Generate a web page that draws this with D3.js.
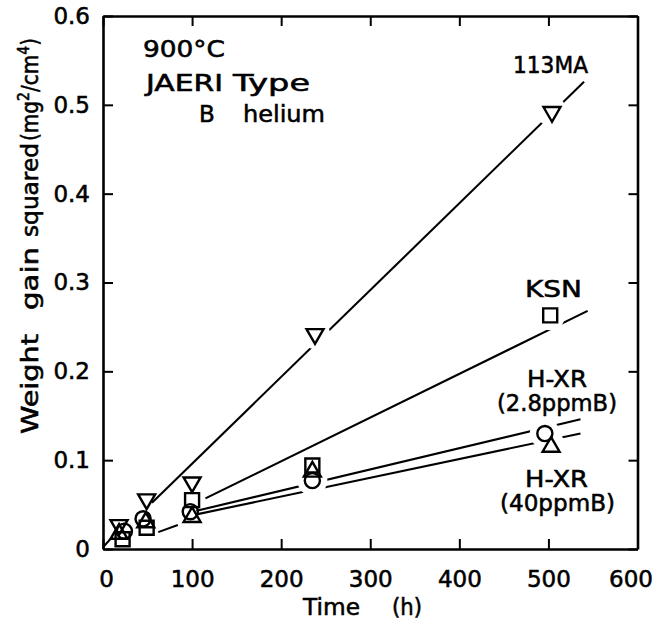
<!DOCTYPE html>
<html>
<head>
<meta charset="utf-8">
<script src="https://cdn.jsdelivr.net/npm/d3@7"></script>
<style>
  html, body { margin: 0; padding: 0; background: #fff; }
  svg { display: block; }
  text { font-family: "DejaVu Sans", sans-serif; fill: #000; stroke: #000; stroke-width: 0.55px; }
</style>
</head>
<body>
<svg id="chart" width="658" height="633"></svg>
<script>
// Axis ticks
const timeTicks = [0, 100, 200, 300, 400, 500, 600];
const gainTicks = [0, 0.1, 0.2, 0.3, 0.4, 0.5, 0.6];

// Measured weight gain squared (mg^2/cm^4) versus exposure time (h)
const hours113MA = [18, 49, 100, 238, 504];
const gain113MA  = [0.027, 0.056, 0.075, 0.242, 0.492];
const hoursKSN   = [22, 49, 100, 235, 502];
const gainKSN    = [0.011, 0.024, 0.055, 0.094, 0.263];
const hoursHXR28 = [24, 45, 98, 235, 496];
const gainHXR28  = [0.020, 0.034, 0.042, 0.077, 0.130];
const hoursHXR40 = [18, 48, 100, 235, 503];
const gainHXR40  = [0.017, 0.030, 0.036, 0.087, 0.115];

// Fitted lines, as [hour, gain] end points
const fit113MA = [[55, 0.052], [540, 0.526]];
const fitKSN   = [[115, 0.057], [544, 0.268]];
const fitHXR28 = [[105, 0.043], [536, 0.146]];
const fitHXR40 = [[105, 0.039], [536, 0.130]];
// Short hand-drawn strokes near the origin
const earlyStrokes = [
  [[0, 0.002], [9, 0.012]],
  [[62, 0.019], [84, 0.027]]
];

const series = [
  { hours: hours113MA, gain: gain113MA, fit: fit113MA, shape: "triDown" },
  { hours: hoursKSN,   gain: gainKSN,   fit: fitKSN,   shape: "square" },
  { hours: hoursHXR40, gain: gainHXR40, fit: fitHXR40, shape: "triUp" },
  { hours: hoursHXR28, gain: gainHXR28, fit: fitHXR28, shape: "circle" }
];

const svg = d3.select("#chart");
const plotLeft = 103, plotRight = 637.5, plotTop = 16, plotBottom = 549;
const fontSize = 23;

const x = d3.scaleLinear().domain([0, 600]).range([plotLeft, plotRight]);
const y = d3.scaleLinear().domain([0, 0.6]).range([plotBottom, plotTop]);

const line = d3.line().x(d => x(d[0])).y(d => y(d[1]));

// Fit lines
const gLines = svg.append("g")
  .attr("fill", "none").attr("stroke", "#000").attr("stroke-width", 2.1);
series.forEach(s => gLines.append("path").attr("d", line(s.fit)));

// Clear the fit lines around the later, well separated markers
const points = series.flatMap(s =>
  s.hours.map((h, i) => ({ h, g: s.gain[i], shape: s.shape })));
svg.append("g").selectAll("circle")
  .data(points.filter(p => p.h > 150))
  .join("circle")
  .attr("cx", p => x(p.h)).attr("cy", p => y(p.g))
  .attr("r", 15).attr("fill", "#fff");

const gEarly = svg.append("g")
  .attr("fill", "none").attr("stroke", "#000").attr("stroke-width", 2.1);
earlyStrokes.forEach(s => gEarly.append("path").attr("d", line(s)));

// Markers (open symbols)
const symbolFor = {
  triDown: d3.symbol().type(d3.symbolTriangle).size(125),
  triUp:   d3.symbol().type(d3.symbolTriangle).size(125),
  square:  d3.symbol().type(d3.symbolSquare).size(196),
  circle:  d3.symbol().type(d3.symbolCircle).size(180)
};
svg.append("g").selectAll("path")
  .data(points)
  .join("path")
  .attr("d", p => symbolFor[p.shape]())
  .attr("transform", p => `translate(${x(p.h)},${y(p.g)})` + (p.shape === "triDown" ? " rotate(180)" : ""))
  .attr("fill", "none").attr("stroke", "#000").attr("stroke-width", 2.4);

// Axes: ticks point inward on all four sides
function styleAxis(g) {
  g.select(".domain").attr("stroke-width", 2.6);
  g.selectAll(".tick line").attr("stroke-width", 2);
  g.selectAll(".tick text")
    .attr("font-size", fontSize)
    .attr("font-family", "DejaVu Sans, sans-serif");
}
const xAxisG = svg.append("g").attr("transform", `translate(0,${plotBottom})`)
  .call(d3.axisBottom(x).tickValues(timeTicks).tickSize(-10).tickSizeOuter(0).tickPadding(22))
  .call(styleAxis);
// keep the end labels inside the frame width
xAxisG.selectAll(".tick text")
  .attr("dx", d => d === 600 ? -7 : d === 0 ? 3 : 0);
svg.append("g").attr("transform", `translate(0,${plotTop})`)
  .call(d3.axisTop(x).tickValues(timeTicks).tickSize(-10).tickSizeOuter(0).tickFormat(""))
  .call(styleAxis);
svg.append("g").attr("transform", `translate(${plotLeft},0)`)
  .call(d3.axisLeft(y).tickValues(gainTicks).tickSize(-10).tickSizeOuter(0).tickPadding(13)
    .tickFormat(d => d === 0 ? "0" : d3.format(".1f")(d)))
  .call(styleAxis);
svg.append("g").attr("transform", `translate(${plotRight},0)`)
  .call(d3.axisRight(y).tickValues(gainTicks).tickSize(-9).tickSizeOuter(0).tickFormat(""))
  .call(styleAxis);

// Text fitted to a given width: text, left x, right x, baseline y
function label(str, x0, x1, yb) {
  const t = svg.append("text")
    .attr("x", x0).attr("y", yb)
    .attr("font-size", fontSize)
    .text(str);
  if (x1 !== null) t.attr("textLength", x1 - x0).attr("lengthAdjust", "spacingAndGlyphs");
}
label("900°C", 143, 225, 57);
label("JAERI", 146, 223, 91);
label("Type", 233, 310, 91);
label("B", 199, null, 122);
label("helium", 243, 325, 122);
label("113MA", 513, 588, 73);
label("KSN", 525, 582, 297);
label("H-XR", 527, 587, 387);
label("(2.8ppmB)", 497, 617, 411);
label("H-XR", 525, 588, 487);
label("(40ppmB)", 500, 615, 511);

// X axis title
label("Time", 303, 360, 615);
label("(h)", 392, 422, 615);

// Y axis title, reading upward
const yTitle = svg.append("g").attr("transform", "translate(38,434) rotate(-90)");
function vlabel(build, x0, x1) {
  const t = yTitle.append("text")
    .attr("x", x0).attr("y", 0)
    .attr("font-size", fontSize)
    .attr("textLength", x1 - x0)
    .attr("lengthAdjust", "spacingAndGlyphs");
  build(t);
}
vlabel(t => t.text("Weight"), 0, 100);
vlabel(t => t.text("gain"), 124, 187);
vlabel(t => t.text("squared"), 197, 291);
vlabel(t => {
  t.append("tspan").text("(mg");
  t.append("tspan").attr("dy", -9).attr("font-size", 16).text("2");
  t.append("tspan").attr("dy", 9).text("/cm");
  t.append("tspan").attr("dy", -9).attr("font-size", 16).text("4");
  t.append("tspan").attr("dy", 9).text(")");
}, 293, 396);
</script>
</body>
</html>
